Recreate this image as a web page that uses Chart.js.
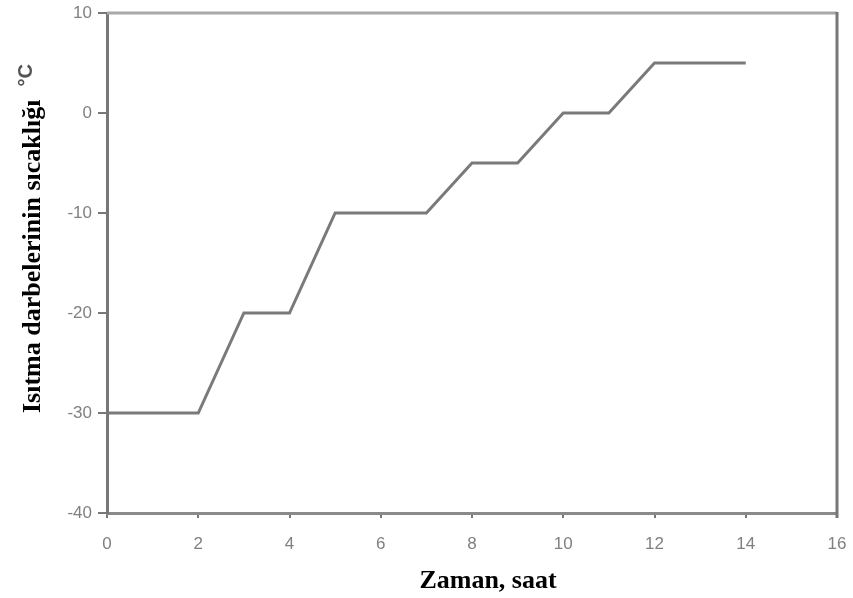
<!DOCTYPE html>
<html><head><meta charset="utf-8">
<script src="https://cdn.jsdelivr.net/npm/chart.js@4.4.0/dist/chart.umd.min.js"></script>
<style>html,body{margin:0;padding:0;background:#fff}#wrap{width:853px;height:598px}</style>
</head><body><div id="wrap"><canvas id="c" width="853" height="598"></canvas></div>
<script>
const xValues = [0, 2, 3, 4, 5, 7, 8, 9, 10, 11, 12, 14];
const tempValues = [-30, -30, -20, -20, -10, -10, -5, -5, 0, 0, 5, 5];
const xTicks = [0, 2, 4, 6, 8, 10, 12, 14, 16];
const yTicks = [-40, -30, -20, -10, 0, 10];
const xTitle = 'Zaman, saat';
const yTitle = 'Isıtma darbelerinin sıcaklığı';
const yUnit = '°C';

const boxPlugin = {
  id: 'box',
  afterDraw(chart) {
    const a = chart.chartArea, ctx = chart.ctx;
    ctx.save();
    ctx.strokeStyle = '#a8a8a8';
    ctx.lineWidth = 3;
    ctx.beginPath();
    ctx.moveTo(a.left, a.top); ctx.lineTo(a.right, a.top);
    ctx.stroke();
    ctx.strokeStyle = '#777';
    ctx.beginPath();
    ctx.moveTo(a.right, a.top - 1); ctx.lineTo(a.right, a.bottom + 5);
    ctx.stroke();
    // axis titles
    ctx.fillStyle = '#000';
    ctx.font = 'bold 26px "Liberation Serif"';
    ctx.textAlign = 'center';
    ctx.textBaseline = 'middle';
    ctx.fillText(xTitle, 488, 581);
    ctx.translate(33, 413);
    ctx.rotate(-Math.PI / 2);
    ctx.textAlign = 'left';
    ctx.fillText(yTitle, 0, 0);
    const w = ctx.measureText(yTitle).width;
    ctx.fillStyle = '#555';
    ctx.font = 'bold 20px "Liberation Sans"';
    ctx.fillText(yUnit, w + 13, -7);
    ctx.restore();
  }
};

new Chart(document.getElementById('c'), {
  type: 'line',
  data: {
    datasets: [{
      data: xValues.map((x, i) => ({x: x, y: tempValues[i]})),
      borderColor: '#7a7a7a',
      borderWidth: 3,
      pointRadius: 0,
      tension: 0,
      fill: false
    }]
  },
  options: {
    responsive: false,
    animation: false,
    layout: { padding: { top: 13, right: 16, left: 0, bottom: 0 } },
    plugins: { legend: { display: false }, tooltip: { enabled: false } },
    scales: {
      x: {
        type: 'linear', min: 0, max: 16,
        afterBuildTicks(s) { s.ticks = xTicks.map(v => ({value: v})); },
        afterFit(s) { s.height = 85; s.paddingLeft = 0; s.paddingRight = 0; },
        border: { color: '#8a8a8a', width: 3 },
        grid: { drawOnChartArea: false, drawTicks: true, tickLength: 5, color: '#777', lineWidth: 2 },
        ticks: { color: '#808080', font: { family: 'Liberation Sans', size: 17 }, padding: 16 },
        title: { display: false }
      },
      y: {
        type: 'linear', min: -40, max: 10,
        afterBuildTicks(s) { s.ticks = yTicks.map(v => ({value: v})); },
        afterFit(s) { s.width = 107; s.paddingTop = 0; s.paddingBottom = 0; },
        border: { color: '#777', width: 3 },
        grid: { drawOnChartArea: false, drawTicks: true, tickLength: 9, color: '#777', lineWidth: 2 },
        ticks: { color: '#808080', font: { family: 'Liberation Sans', size: 17 }, padding: 6 },
        title: { display: false }
      }
    }
  },
  plugins: [boxPlugin]
});
</script></body></html>
